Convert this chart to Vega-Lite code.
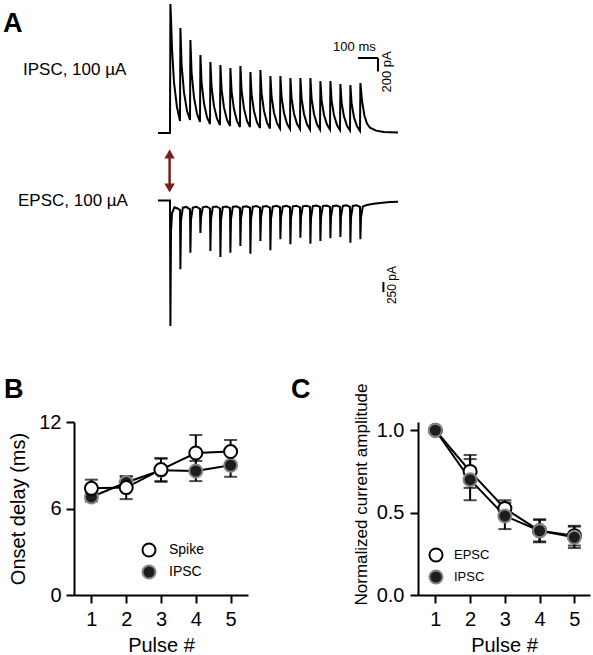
{
"$schema": "https://vega.github.io/schema/vega-lite/v6.json",
"padding": {"left": 3, "top": 0, "right": 0, "bottom": 0},
"spacing": 81,
"bounds": "flush",
"datasets": {
"ipsc": [{"t":-60,"pA":0},{"t":0,"pA":0},{"t":2,"pA":1909},{"t":5,"pA":1700},{"t":10,"pA":1250},{"t":20,"pA":750},{"t":35,"pA":380},{"t":50,"pA":178},
{"t":52,"pA":1554},{"t":58,"pA":1009},{"t":70,"pA":601},{"t":85,"pA":328},{"t":100,"pA":192},
{"t":102,"pA":1376},{"t":108,"pA":891},{"t":120,"pA":527},{"t":135,"pA":284},{"t":150,"pA":163},
{"t":152,"pA":1154},{"t":158,"pA":746},{"t":170,"pA":439},{"t":185,"pA":235},{"t":200,"pA":133},
{"t":202,"pA":1051},{"t":208,"pA":678},{"t":220,"pA":398},{"t":235,"pA":211},{"t":250,"pA":118},
{"t":252,"pA":1007},{"t":258,"pA":646},{"t":270,"pA":375},{"t":285,"pA":194},{"t":300,"pA":104},
{"t":302,"pA":962},{"t":308,"pA":613},{"t":320,"pA":351},{"t":335,"pA":176},{"t":350,"pA":89},
{"t":352,"pA":992},{"t":358,"pA":631},{"t":370,"pA":360},{"t":385,"pA":179},{"t":400,"pA":89},
{"t":402,"pA":903},{"t":408,"pA":571},{"t":420,"pA":323},{"t":435,"pA":157},{"t":450,"pA":74},
{"t":452,"pA":932},{"t":458,"pA":586},{"t":470,"pA":327},{"t":485,"pA":154},{"t":500,"pA":67},
{"t":502,"pA":844},{"t":508,"pA":533},{"t":520,"pA":300},{"t":535,"pA":145},{"t":550,"pA":67},
{"t":552,"pA":844},{"t":558,"pA":530},{"t":570,"pA":295},{"t":585,"pA":138},{"t":600,"pA":59},
{"t":602,"pA":814},{"t":608,"pA":512},{"t":620,"pA":286},{"t":635,"pA":135},{"t":650,"pA":59},
{"t":652,"pA":814},{"t":658,"pA":509},{"t":670,"pA":281},{"t":685,"pA":128},{"t":700,"pA":52},
{"t":702,"pA":814},{"t":708,"pA":509},{"t":720,"pA":281},{"t":735,"pA":128},{"t":750,"pA":52},
{"t":752,"pA":770},{"t":758,"pA":483},{"t":770,"pA":267},{"t":785,"pA":124},{"t":800,"pA":52},
{"t":802,"pA":770},{"t":808,"pA":480},{"t":820,"pA":262},{"t":835,"pA":117},{"t":850,"pA":44},
{"t":852,"pA":725},{"t":858,"pA":450},{"t":870,"pA":243},{"t":885,"pA":106},{"t":900,"pA":37},
{"t":902,"pA":710},{"t":908,"pA":438},{"t":920,"pA":234},{"t":935,"pA":98},{"t":950,"pA":30},
{"t":952,"pA":740},{"t":960,"pA":480},{"t":972,"pA":260},{"t":985,"pA":140},{"t":1000,"pA":80},{"t":1030,"pA":35},{"t":1070,"pA":15},{"t":1140,"pA":8}],
"epsc": [{"t":-60,"pA":0},{"t":0,"pA":0},{"t":2,"pA":-3138},{"t":5,"pA":-800},{"t":10,"pA":-320},{"t":22,"pA":-170},{"t":38,"pA":-200},
{"t":50,"pA":-240},{"t":52,"pA":-1720},{"t":55,"pA":-500},{"t":64,"pA":-180},{"t":82,"pA":-160},
{"t":100,"pA":-220},{"t":102,"pA":-1305},{"t":105,"pA":-480},{"t":114,"pA":-175},{"t":132,"pA":-155},
{"t":150,"pA":-210},{"t":152,"pA":-813},{"t":155,"pA":-420},{"t":164,"pA":-170},{"t":182,"pA":-150},
{"t":200,"pA":-200},{"t":202,"pA":-1263},{"t":205,"pA":-470},{"t":214,"pA":-165},{"t":232,"pA":-150},
{"t":250,"pA":-200},{"t":252,"pA":-1413},{"t":255,"pA":-480},{"t":264,"pA":-165},{"t":282,"pA":-150},
{"t":300,"pA":-190},{"t":302,"pA":-1305},{"t":305,"pA":-470},{"t":314,"pA":-160},{"t":332,"pA":-145},
{"t":350,"pA":-190},{"t":352,"pA":-1138},{"t":355,"pA":-450},{"t":364,"pA":-160},{"t":382,"pA":-145},
{"t":400,"pA":-180},{"t":402,"pA":-1330},{"t":405,"pA":-470},{"t":414,"pA":-155},{"t":432,"pA":-140},
{"t":450,"pA":-180},{"t":452,"pA":-1013},{"t":455,"pA":-430},{"t":464,"pA":-155},{"t":482,"pA":-140},
{"t":500,"pA":-180},{"t":502,"pA":-1245},{"t":505,"pA":-460},{"t":514,"pA":-150},{"t":532,"pA":-135},
{"t":550,"pA":-170},{"t":552,"pA":-970},{"t":555,"pA":-420},{"t":564,"pA":-150},{"t":582,"pA":-135},
{"t":600,"pA":-170},{"t":602,"pA":-1095},{"t":605,"pA":-440},{"t":614,"pA":-145},{"t":632,"pA":-130},
{"t":650,"pA":-170},{"t":652,"pA":-930},{"t":655,"pA":-410},{"t":664,"pA":-145},{"t":682,"pA":-130},
{"t":700,"pA":-160},{"t":702,"pA":-1080},{"t":705,"pA":-440},{"t":714,"pA":-140},{"t":732,"pA":-125},
{"t":750,"pA":-160},{"t":752,"pA":-1013},{"t":755,"pA":-420},{"t":764,"pA":-140},{"t":782,"pA":-125},
{"t":800,"pA":-160},{"t":802,"pA":-945},{"t":805,"pA":-410},{"t":814,"pA":-140},{"t":832,"pA":-125},
{"t":850,"pA":-160},{"t":852,"pA":-913},{"t":855,"pA":-400},{"t":864,"pA":-135},{"t":882,"pA":-120},
{"t":900,"pA":-160},{"t":902,"pA":-1055},{"t":905,"pA":-430},{"t":914,"pA":-135},{"t":932,"pA":-120},
{"t":950,"pA":-160},{"t":952,"pA":-970},{"t":955,"pA":-420},{"t":964,"pA":-150},{"t":985,"pA":-110},{"t":1010,"pA":-90},{"t":1050,"pA":-65},{"t":1100,"pA":-40},{"t":1140,"pA":-30}],
"onset": [{"pulse":1,"series":"IPSC","mean":6.8,"err":0.3},{"pulse":2,"series":"IPSC","mean":7.8,"err":0.4},{"pulse":3,"series":"IPSC","mean":8.65,"err":0.8},{"pulse":4,"series":"IPSC","mean":8.6,"err":0.7},{"pulse":5,"series":"IPSC","mean":9.0,"err":0.8},
{"pulse":1,"series":"Spike","mean":7.4,"err":0.6},{"pulse":2,"series":"Spike","mean":7.45,"err":0.8},{"pulse":3,"series":"Spike","mean":8.7,"err":0.8},{"pulse":4,"series":"Spike","mean":9.85,"err":1.25},{"pulse":5,"series":"Spike","mean":9.95,"err":0.8}],
"amp": [{"pulse":1,"series":"EPSC","mean":1.0,"err":0},{"pulse":2,"series":"EPSC","mean":0.75,"err":0.1},{"pulse":3,"series":"EPSC","mean":0.525,"err":0.05},{"pulse":4,"series":"EPSC","mean":0.39,"err":0.07},{"pulse":5,"series":"EPSC","mean":0.36,"err":0.06},
{"pulse":1,"series":"IPSC","mean":1.0,"err":0},{"pulse":2,"series":"IPSC","mean":0.70,"err":0.125},{"pulse":3,"series":"IPSC","mean":0.48,"err":0.08},{"pulse":4,"series":"IPSC","mean":0.39,"err":0.065},{"pulse":5,"series":"IPSC","mean":0.35,"err":0.065}]
},
"vconcat": [
{
"width": 520, "height": 340,
"resolve": {"scale": {"y": "independent"}},
"layer": [
{"layer": [
{"data": {"name": "ipsc"}, "mark": {"type": "line", "color": "#000", "strokeWidth": 2},
 "encoding": {"x": {"field": "t", "type": "quantitative", "scale": {"domain": [-480, 2120], "nice": false, "zero": false}, "axis": null},
  "y": {"field": "pA", "type": "quantitative", "scale": {"domain": [-3078.4, 1953.6], "nice": false, "zero": false}, "axis": null}}},
{"data": {"values": [{}]}, "mark": {"type": "text", "text": "A", "fontSize": 27, "fontWeight": "bold", "align": "left", "baseline": "alphabetic", "color": "#000"},
 "encoding": {"x": {"datum": -835, "type": "quantitative", "scale": {"domain": [-480, 2120], "nice": false, "zero": false}, "axis": null},
  "y": {"datum": 1495, "type": "quantitative", "scale": {"domain": [-3078.4, 1953.6], "nice": false, "zero": false}, "axis": null}}},
{"data": {"values": [{}]}, "mark": {"type": "text", "text": "B", "fontSize": 27, "fontWeight": "bold", "align": "left", "baseline": "alphabetic", "color": "#000"},
 "encoding": {"x": {"datum": -830, "type": "quantitative", "scale": {"domain": [-480, 2120], "nice": false, "zero": false}, "axis": null},
  "y": {"datum": -3922, "type": "quantitative", "scale": {"domain": [-3078.4, 1953.6], "nice": false, "zero": false}, "axis": null}}},
{"data": {"values": [{}]}, "mark": {"type": "text", "text": "C", "fontSize": 27, "fontWeight": "bold", "align": "left", "baseline": "alphabetic", "color": "#000"},
 "encoding": {"x": {"datum": 605, "type": "quantitative", "scale": {"domain": [-480, 2120], "nice": false, "zero": false}, "axis": null},
  "y": {"datum": -3922, "type": "quantitative", "scale": {"domain": [-3078.4, 1953.6], "nice": false, "zero": false}, "axis": null}}},
{"data": {"values": [{}]}, "mark": {"type": "text", "text": "IPSC, 100 µA", "fontSize": 17, "align": "left", "baseline": "middle", "color": "#000"},
 "encoding": {"x": {"datum": -735, "type": "quantitative", "scale": {"domain": [-480, 2120], "nice": false, "zero": false}, "axis": null},
  "y": {"datum": 932, "type": "quantitative", "scale": {"domain": [-3078.4, 1953.6], "nice": false, "zero": false}, "axis": null}}},
{"data": {"values": [{}]}, "mark": {"type": "text", "text": "100 ms", "fontSize": 13, "align": "center", "baseline": "middle", "color": "#000"},
 "encoding": {"x": {"datum": 922, "type": "quantitative", "scale": {"domain": [-480, 2120], "nice": false, "zero": false}, "axis": null},
  "y": {"datum": 1273, "type": "quantitative", "scale": {"domain": [-3078.4, 1953.6], "nice": false, "zero": false}, "axis": null}}},
{"data": {"values": [{}]}, "mark": {"type": "text", "text": "200 pA", "fontSize": 13, "align": "center", "baseline": "middle", "angle": 270, "color": "#000"},
 "encoding": {"x": {"datum": 1085, "type": "quantitative", "scale": {"domain": [-480, 2120], "nice": false, "zero": false}, "axis": null},
  "y": {"datum": 903, "type": "quantitative", "scale": {"domain": [-3078.4, 1953.6], "nice": false, "zero": false}, "axis": null}}},
{"data": {"values": [{}]}, "mark": {"type": "rule", "color": "#000", "strokeWidth": 2},
 "encoding": {"x": {"datum": 940, "type": "quantitative", "scale": {"domain": [-480, 2120], "nice": false, "zero": false}, "axis": null},
  "x2": {"datum": 1040},
  "y": {"datum": 1110, "type": "quantitative", "scale": {"domain": [-3078.4, 1953.6], "nice": false, "zero": false}, "axis": null}}},
{"data": {"values": [{}]}, "mark": {"type": "rule", "color": "#000", "strokeWidth": 2},
 "encoding": {"x": {"datum": 1040, "type": "quantitative", "scale": {"domain": [-480, 2120], "nice": false, "zero": false}, "axis": null},
  "y": {"datum": 1110, "type": "quantitative", "scale": {"domain": [-3078.4, 1953.6], "nice": false, "zero": false}, "axis": null},
  "y2": {"datum": 910}}},
{"data": {"values": [{}]}, "mark": {"type": "rule", "color": "#7b1e1e", "strokeWidth": 2.5},
 "encoding": {"x": {"datum": -2, "type": "quantitative", "scale": {"domain": [-480, 2120], "nice": false, "zero": false}, "axis": null},
  "y": {"datum": -320, "type": "quantitative", "scale": {"domain": [-3078.4, 1953.6], "nice": false, "zero": false}, "axis": null},
  "y2": {"datum": -810}}},
{"data": {"values": [{}]}, "mark": {"type": "point", "shape": "triangle-up", "filled": true, "size": 110, "color": "#7b1e1e", "opacity": 1},
 "encoding": {"x": {"datum": -2, "type": "quantitative", "scale": {"domain": [-480, 2120], "nice": false, "zero": false}, "axis": null},
  "y": {"datum": -311, "type": "quantitative", "scale": {"domain": [-3078.4, 1953.6], "nice": false, "zero": false}, "axis": null}}},
{"data": {"values": [{}]}, "mark": {"type": "point", "shape": "triangle-down", "filled": true, "size": 110, "color": "#7b1e1e", "opacity": 1},
 "encoding": {"x": {"datum": -2, "type": "quantitative", "scale": {"domain": [-480, 2120], "nice": false, "zero": false}, "axis": null},
  "y": {"datum": -814, "type": "quantitative", "scale": {"domain": [-3078.4, 1953.6], "nice": false, "zero": false}, "axis": null}}}
]},
{"layer": [
{"data": {"name": "epsc"}, "mark": {"type": "line", "color": "#000", "strokeWidth": 2},
 "encoding": {"x": {"field": "t", "type": "quantitative", "scale": {"domain": [-480, 2120], "nice": false, "zero": false}, "axis": null},
  "y": {"field": "pA", "type": "quantitative", "scale": {"domain": [-3512.5, 4987.5], "nice": false, "zero": false}, "axis": null}}},
{"data": {"values": [{}]}, "mark": {"type": "text", "text": "EPSC, 100 µA", "fontSize": 17, "align": "left", "baseline": "middle", "color": "#000"},
 "encoding": {"x": {"datum": -760, "type": "quantitative", "scale": {"domain": [-480, 2120], "nice": false, "zero": false}, "axis": null},
  "y": {"datum": -10, "type": "quantitative", "scale": {"domain": [-3512.5, 4987.5], "nice": false, "zero": false}, "axis": null}}},
{"data": {"values": [{}]}, "mark": {"type": "rule", "color": "#000", "strokeWidth": 2},
 "encoding": {"x": {"datum": 1067, "type": "quantitative", "scale": {"domain": [-480, 2120], "nice": false, "zero": false}, "axis": null},
  "y": {"datum": -2040, "type": "quantitative", "scale": {"domain": [-3512.5, 4987.5], "nice": false, "zero": false}, "axis": null},
  "y2": {"datum": -2290}}},
{"data": {"values": [{}]}, "mark": {"type": "text", "text": "250 pA", "fontSize": 12, "align": "center", "baseline": "middle", "angle": 270, "color": "#000"},
 "encoding": {"x": {"datum": 1112, "type": "quantitative", "scale": {"domain": [-480, 2120], "nice": false, "zero": false}, "axis": null},
  "y": {"datum": -2115, "type": "quantitative", "scale": {"domain": [-3512.5, 4987.5], "nice": false, "zero": false}, "axis": null}}}
]}
]
},
{
"spacing": 170,
"bounds": "flush",
"resolve": {"scale": {"fill": "independent", "stroke": "independent"}},
"hconcat": [
{
"width": 174, "height": 173,
"data": {"name": "onset"},
"encoding": {
 "x": {"field": "pulse", "type": "quantitative", "scale": {"domain": [0.5, 5.5], "nice": false, "zero": false}, "axis": {"values": [1, 2, 3, 4, 5], "format": "d", "title": "Pulse #", "labelFlush": false, "labelPadding": 6, "titlePadding": 6}},
 "y": {"field": "mean", "type": "quantitative", "scale": {"domain": [0, 12], "nice": false}, "axis": {"values": [0, 6, 12], "title": "Onset delay (ms)", "titlePadding": 10, "labelPadding": 5}}
},
"layer": [
 {"mark": {"type": "line", "color": "#000", "strokeWidth": 2}, "encoding": {"detail": {"field": "series"}}},
 {"mark": {"type": "errorbar", "ticks": true, "size": 13, "thickness": 2, "color": "#000"}, "encoding": {"yError": {"field": "err"}}},
 {"mark": {"type": "circle", "size": 170, "strokeWidth": 2, "opacity": 1},
  "encoding": {
   "fill": {"field": "series", "type": "nominal", "scale": {"domain": ["Spike", "IPSC"], "range": ["#ffffff", "#1c1c1c"]}, "legend": {"orient": "none", "legendX": 67, "legendY": 120, "title": null, "labelFontSize": 14, "symbolSize": 170, "symbolStrokeWidth": 2, "rowPadding": 0, "labelOffset": 12, "padding": 0}},
   "stroke": {"field": "series", "type": "nominal", "scale": {"domain": ["Spike", "IPSC"], "range": ["#000000", "#858585"]}, "legend": {"orient": "none", "legendX": 67, "legendY": 120, "title": null, "labelFontSize": 14, "symbolSize": 170, "symbolStrokeWidth": 2, "rowPadding": 0, "labelOffset": 12, "padding": 0}}
  }}
]
},
{
"width": 172, "height": 173,
"data": {"name": "amp"},
"encoding": {
 "x": {"field": "pulse", "type": "quantitative", "scale": {"domain": [0.5, 5.45], "nice": false, "zero": false}, "axis": {"values": [1, 2, 3, 4, 5], "format": "d", "title": "Pulse #", "labelFlush": false, "labelPadding": 6, "titlePadding": 6}},
 "y": {"field": "mean", "type": "quantitative", "scale": {"domain": [0, 1.05], "nice": false}, "axis": {"values": [0, 0.5, 1], "format": ".1f", "title": "Normalized current amplitude", "titleFontSize": 17, "titlePadding": 6, "titleY": 72, "labelPadding": 6}}
},
"layer": [
 {"mark": {"type": "line", "color": "#000", "strokeWidth": 2}, "encoding": {"detail": {"field": "series"}}},
 {"mark": {"type": "errorbar", "ticks": true, "size": 13, "thickness": 2, "color": "#000"}, "encoding": {"yError": {"field": "err"}}},
 {"mark": {"type": "circle", "size": 170, "strokeWidth": 2, "opacity": 1},
  "encoding": {
   "fill": {"field": "series", "type": "nominal", "scale": {"domain": ["EPSC", "IPSC"], "range": ["#ffffff", "#1c1c1c"]}, "legend": {"orient": "none", "legendX": 10, "legendY": 125, "title": null, "labelFontSize": 13, "symbolSize": 170, "symbolStrokeWidth": 2, "rowPadding": 0, "labelOffset": 10, "padding": 0}},
   "stroke": {"field": "series", "type": "nominal", "scale": {"domain": ["EPSC", "IPSC"], "range": ["#000000", "#858585"]}, "legend": {"orient": "none", "legendX": 10, "legendY": 125, "title": null, "labelFontSize": 13, "symbolSize": 170, "symbolStrokeWidth": 2, "rowPadding": 0, "labelOffset": 10, "padding": 0}}
  }}
]
}
]
}
],
"config": {
 "font": "Liberation Sans",
 "view": {"stroke": null},
 "axis": {"grid": false, "domainColor": "#000", "domainWidth": 2, "tickColor": "#000", "tickWidth": 2, "tickSize": 8, "labelColor": "#000", "labelFontSize": 20, "titleColor": "#000", "titleFontSize": 20, "titleFontWeight": "normal"},
 "legend": {"labelColor": "#000", "labelFont": "Liberation Sans"}
}
}
